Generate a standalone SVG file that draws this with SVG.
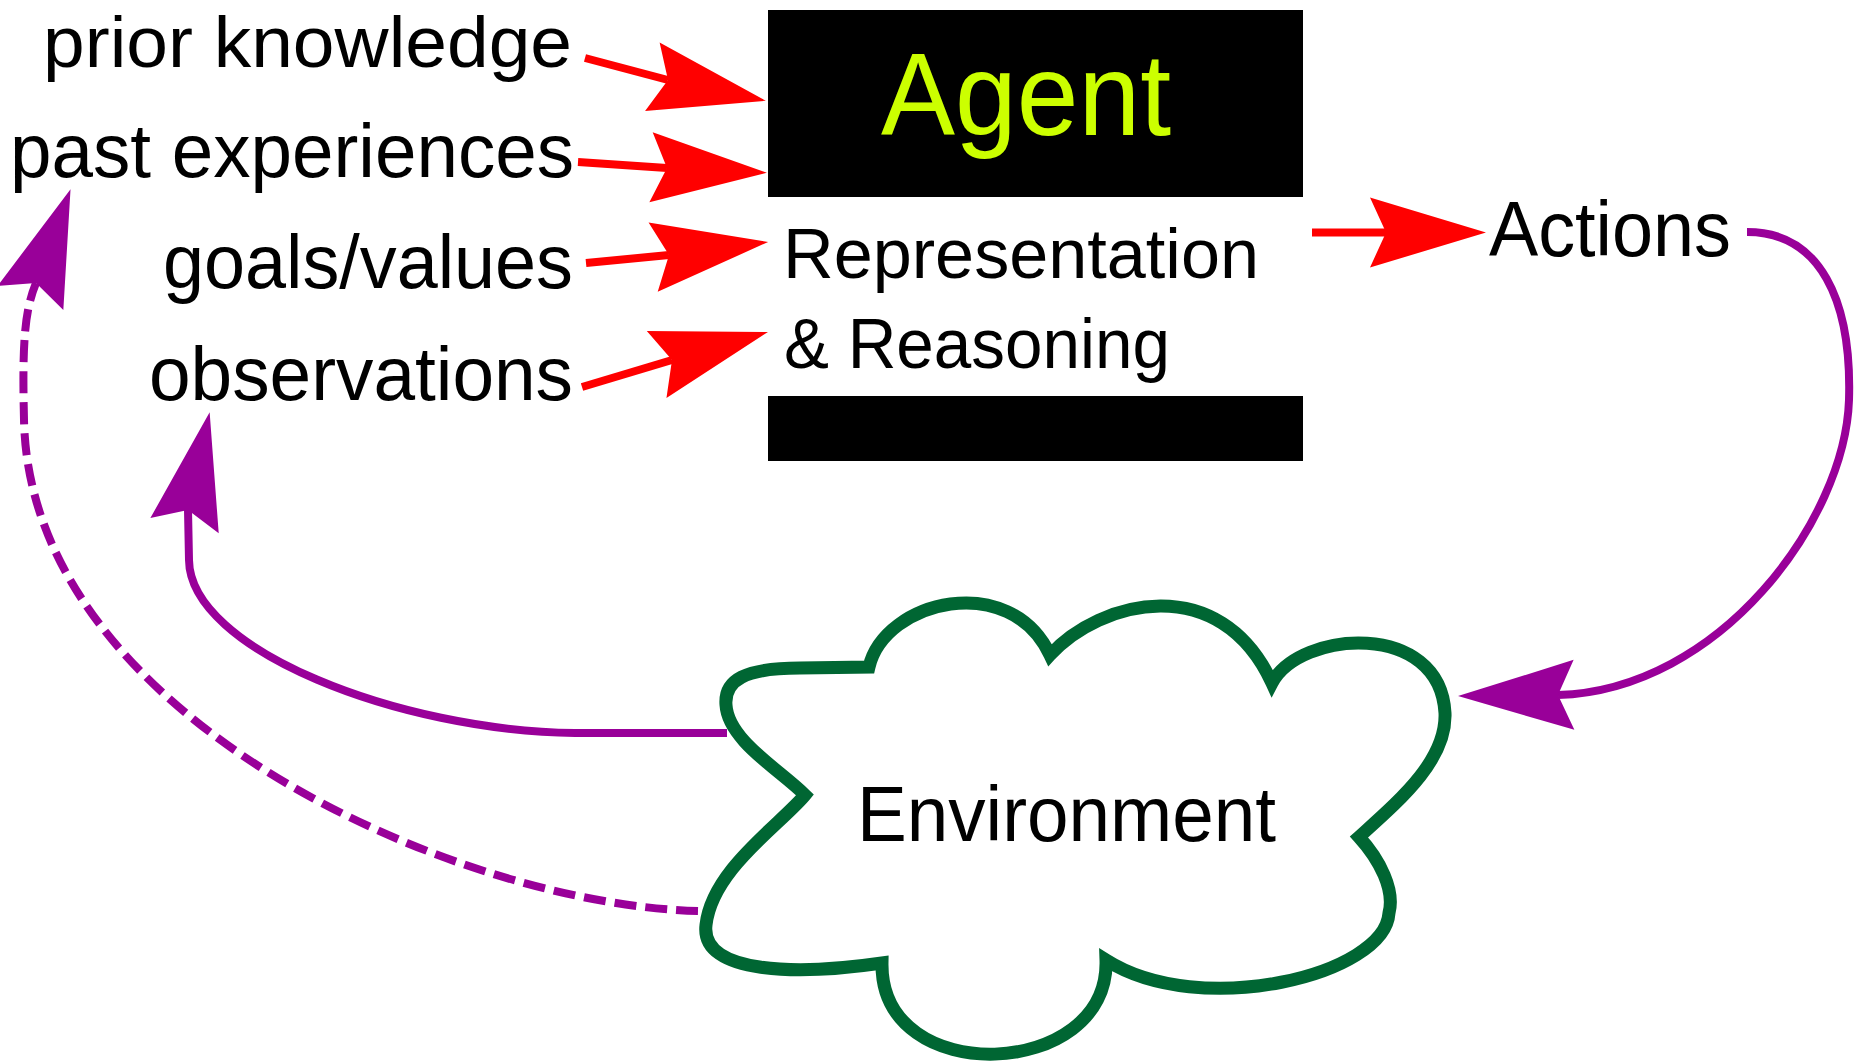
<svg xmlns="http://www.w3.org/2000/svg" xmlns:xlink="http://www.w3.org/1999/xlink" width="1861" height="1064" viewBox="0 0 1861 1064">
<style>
  .lbl{font-family:"Liberation Sans",Arial,sans-serif;fill:#000;font-size:76px}
  .top{font-size:73px}
  .big{font-size:78px}
  .rr{font-size:70px}
  .agent{font-family:"Liberation Sans",Arial,sans-serif;fill:#ccff00;font-size:117px}
  .red{stroke:#ff0000;stroke-width:8;fill:none}
  .pur{stroke:#990099;stroke-width:8;fill:none}
  .dash{stroke-dasharray:22 9}
  .cloud{stroke:#006633;stroke-width:13;fill:#fff;stroke-linejoin:miter}
</style>
<defs>
  <path id="ah" d="M100,0 L-16,-35 L0,0 L-16,35 Z"/>
</defs>
<rect width="1861" height="1064" fill="#fff"/>

<g id="agent">
  <rect x="768" y="10" width="535" height="187" fill="#000"/>
  <text class="agent" x="881" y="135" textLength="290" lengthAdjust="spacingAndGlyphs">Agent</text>
  <text class="lbl rr" x="783" y="278" textLength="476" lengthAdjust="spacingAndGlyphs">Representation</text>
  <text class="lbl rr" x="784" y="368" textLength="386" lengthAdjust="spacingAndGlyphs">&amp; Reasoning</text>
  <rect x="768" y="396" width="535" height="65" fill="#000"/>
</g>

<g id="prior-knowledge">
  <text class="lbl top" x="43" y="67" textLength="529" lengthAdjust="spacingAndGlyphs">prior knowledge</text>
</g>
<g id="past-experiences">
  <text class="lbl" x="10" y="177" textLength="564" lengthAdjust="spacingAndGlyphs">past experiences</text>
</g>
<g id="goals-values">
  <text class="lbl" x="163" y="288" textLength="410" lengthAdjust="spacingAndGlyphs">goals/values</text>
</g>
<g id="observations">
  <text class="lbl" x="149" y="400" textLength="424" lengthAdjust="spacingAndGlyphs">observations</text>
</g>

<g id="actions">
  <text class="lbl big" x="1489" y="256" textLength="242" lengthAdjust="spacingAndGlyphs">Actions</text>
</g>

<g id="environment">
  <path class="cloud" d="M805,795 C780,770 728,740 726,705 C724,680 745,668 800,668 L869,667 C885,600 1010,570 1050,655 C1100,600 1220,570 1272,683 C1300,630 1440,620 1445,713 C1447,760 1400,800 1359,837 C1380,860 1395,890 1389,913 C1385,975 1200,1020 1106,960 C1110,1080 880,1090 882,963 C800,975 700,975 706,925 C712,870 780,825 805,795 Z"/>
  <text class="lbl big" x="857" y="841" textLength="419" lengthAdjust="spacingAndGlyphs">Environment</text>
</g>

<g id="connectors">
  <path class="red" d="M585,58 L668,80"/>
  <use xlink:href="#ah" fill="#ff0000" transform="translate(668,80) rotate(12)"/>
  <path class="red" d="M578,162 L667,168"/>
  <use xlink:href="#ah" fill="#ff0000" transform="translate(667,168) rotate(2.7)"/>
  <path class="red" d="M586,263 L669,255"/>
  <use xlink:href="#ah" fill="#ff0000" transform="translate(669,255) rotate(-7.5)"/>
  <path class="red" d="M582,387 L672,360"/>
  <use xlink:href="#ah" fill="#ff0000" transform="translate(672,360) rotate(-16.3)"/>
  <path class="red" d="M1312,232.5 L1386,232.5"/>
  <use xlink:href="#ah" fill="#ff0000" transform="translate(1386,232.5) rotate(0)"/>

  <path class="pur" d="M1747,232 C1820,232 1852,300 1849,400 C1845,520 1720,690 1558,695"/>
  <use xlink:href="#ah" fill="#990099" transform="translate(1558,695) rotate(179.4)"/>

  <path class="pur" d="M727,733 L575,733 C400,731 190,650 189,560 L188,510"/>
  <use xlink:href="#ah" fill="#990099" transform="translate(188,510) rotate(-77.5)"/>

  <path class="pur dash" d="M698,911 C460,905 30,720 24,420 C22,340 25,310 36,283"/>
  <use xlink:href="#ah" fill="#990099" transform="translate(36,283) rotate(-69.8)"/>
</g>
</svg>
